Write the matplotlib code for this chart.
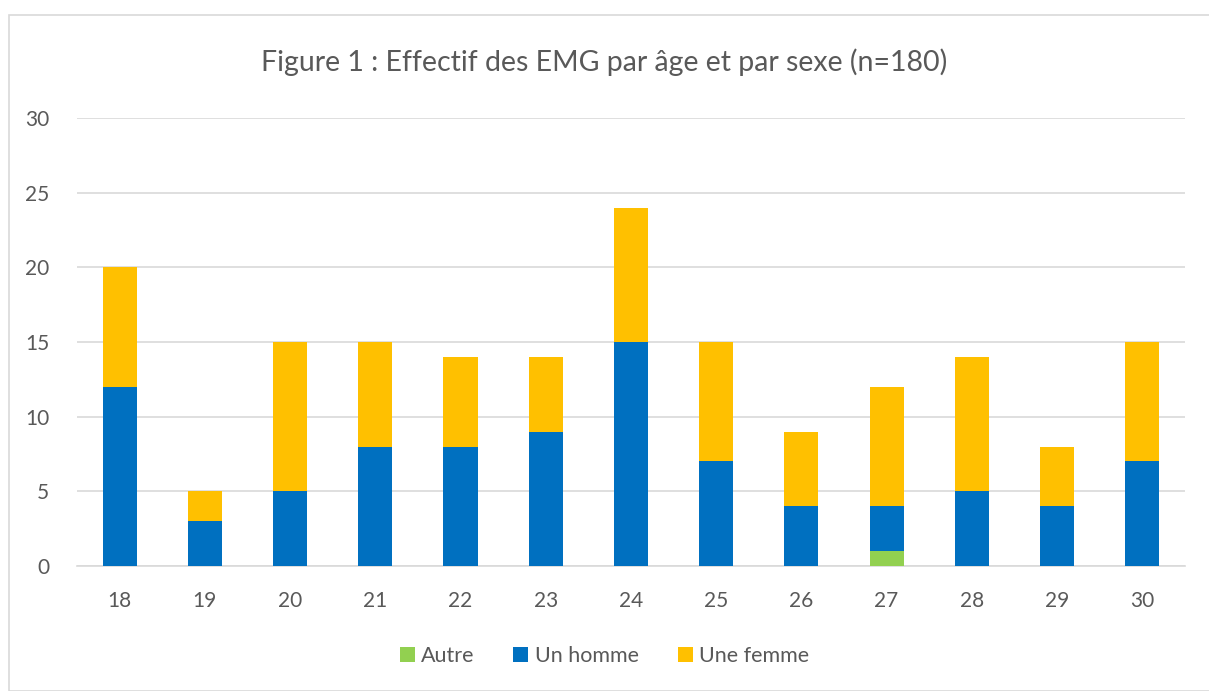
import matplotlib.pyplot as plt
from matplotlib.patches import Rectangle
import numpy as np

ages = ['18', '19', '20', '21', '22', '23', '24', '25', '26', '27', '28', '29', '30']
autre = [0, 0, 0, 0, 0, 0, 0, 0, 0, 1, 0, 0, 0]
homme = [12, 3, 5, 8, 8, 9, 15, 7, 4, 3, 5, 4, 7]
femme = [8, 2, 10, 7, 6, 5, 9, 8, 5, 8, 9, 4, 8]

plt.rcParams['font.family'] = ['Lato', 'DejaVu Sans']
txtcol = '#595959'

fig = plt.figure(figsize=(12.09, 6.91), dpi=100)
ax = fig.add_axes([0.0637, 0.181, 0.9163, 0.648])

x = np.arange(len(ages))
a = np.array(autre)
h = np.array(homme)
f = np.array(femme)
w = 0.4
ax.bar(x, a, w, color='#92D050', label='Autre', zorder=3)
ax.bar(x, h, w, bottom=a, color='#0070C0', label='Un homme', zorder=3)
ax.bar(x, f, w, bottom=a + h, color='#FFC000', label='Une femme', zorder=3)

ax.set_xlim(-0.5, len(ages) - 0.5)
ax.set_ylim(0, 30)
ax.set_yticks(range(0, 31, 5))
ax.set_xticks(x)
ax.set_xticklabels(ages)
ax.yaxis.grid(True, color='#D9D9D9', linewidth=1.2, zorder=0)
for s in ['top', 'right', 'left']:
    ax.spines[s].set_visible(False)
ax.spines['bottom'].set_color('#D9D9D9')
ax.spines['bottom'].set_linewidth(1.2)
ax.tick_params(axis='both', length=0, labelsize=15, labelcolor=txtcol)
ax.tick_params(axis='y', pad=20)
ax.tick_params(axis='x', pad=18)

fig.text(0.5, 0.91, 'Figure 1 : Effectif des EMG par âge et par sexe (n=180)',
         ha='center', va='center', fontsize=20.5, color=txtcol)

leg = fig.legend(loc='center', bbox_to_anchor=(0.5, 0.05), ncol=3, frameon=False,
                 fontsize=15.5, handlelength=0.7, handleheight=0.7, handletextpad=0.3,
                 columnspacing=1.8)
for t in leg.get_texts():
    t.set_color(txtcol)

fig.patches.append(Rectangle((9 / 1209, 0), 1.2, 1 - 15 / 691, transform=fig.transFigure,
                             fill=False, edgecolor='#D9D9D9', linewidth=1.2))

fig.savefig('out.png', dpi=100)
